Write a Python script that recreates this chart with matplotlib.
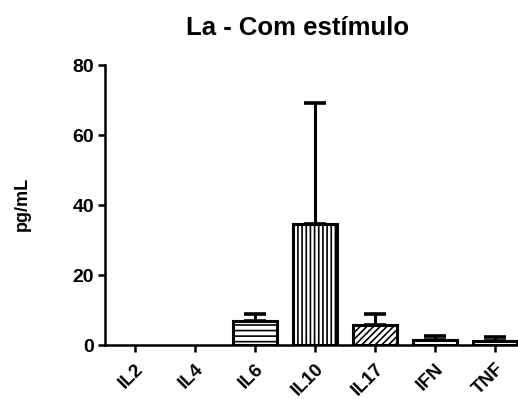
import numpy as np
import matplotlib.pyplot as plt

plt.rcParams['font.family'] = ['Liberation Sans', 'DejaVu Sans']
plt.rcParams['hatch.linewidth'] = 1.2

cytokines = ["IL2", "IL4", "IL6", "IL10", "IL17", "IFN", "TNF"]
mean_vals = [0, 0, 6.8, 34.6, 5.6, 1.3, 1.1]
err_vals = [0, 0, 2.2, 34.6, 3.4, 1.4, 1.3]
hatches = ["", "", "---", "||||", "/////", "--", "--"]

fig = plt.figure(figsize=(5.18, 3.99), dpi=100)
ax = fig.add_axes([105 / 518, 54 / 399, 420 / 518, 280 / 399])

x = np.arange(len(cytokines))
for i in range(len(cytokines)):
    if mean_vals[i] > 0:
        ax.bar(x[i], mean_vals[i], width=0.72, color="white", edgecolor="black",
               linewidth=2.2, hatch=hatches[i], zorder=2)
        ax.errorbar(x[i], mean_vals[i], yerr=[[0], [err_vals[i]]], fmt="none",
                    ecolor="black", elinewidth=2.2, capsize=8, capthick=2.6, zorder=3)

ax.set_xlim(-0.5, 6.5)
ax.set_ylim(0, 80)
ax.set_yticks([0, 20, 40, 60, 80])
ax.set_xticks(x)
ax.set_xticklabels(cytokines, rotation=45, ha="right", va="top",
                   rotation_mode="anchor", fontsize=13.5, fontweight="bold")
for lbl in ax.get_yticklabels():
    lbl.set_fontweight("bold")
    lbl.set_fontsize(14)

for s in ["top", "right"]:
    ax.spines[s].set_visible(False)
for s in ["left", "bottom"]:
    ax.spines[s].set_linewidth(1.8)
ax.tick_params(axis="y", direction="out", length=5, width=1.8, pad=3)
ax.tick_params(axis="x", direction="out", length=5, width=1.8, pad=6)

fig.text(22 / 518, 1 - 204 / 399, "pg/mL", rotation=90, ha="center", va="center",
         fontsize=13, fontweight="bold")
fig.text(298 / 518, 1 - 28 / 399, "La - Com estímulo", ha="center", va="center",
         fontsize=18.5, fontweight="bold")

fig.savefig("out.png", dpi=100)
